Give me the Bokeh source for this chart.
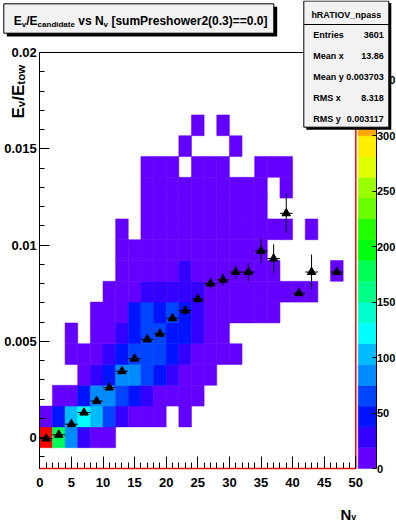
import math
import numpy as np
from bokeh.plotting import figure
from bokeh.models import (ColumnDataSource, LinearColorMapper, Range1d, LinearAxis,
                          FixedTicker, BoxAnnotation, Label)
from bokeh.transform import transform
from bokeh.embed import file_html
from bokeh.resources import INLINE

# ---------------- data ----------------
hist_name = "hRATIOV_npass"
x_lo, x_hi, n_xbins = 0.0, 50.0, 25
y_lo, y_hi, n_ybins = -0.0016, 0.02, 20
z_hi = 375.0

# bin contents: row k = k-th y bin from the bottom, 25 x bins per row
counts = [
    [0] * 25,
    [365, 178, 84, 28, 12, 4] + [0] * 19,
    [10, 47, 103, 122, 103, 65, 28, 14, 8, 3, 0, 2] + [0] * 13,
    [0, 6, 16, 47, 84, 84, 65, 47, 28, 15, 9, 5, 3] + [0] * 12,
    [0, 0, 0, 12, 28, 47, 84, 84, 65, 47, 28, 14, 8, 3] + [0] * 11,
    [0, 0, 5, 10, 16, 28, 47, 65, 65, 65, 47, 28, 14, 6, 3, 2] + [0] * 9,
    [0, 0, 3, 0, 8, 14, 28, 47, 65, 65, 47, 47, 28, 12, 4] + [0] * 10,
    [0, 0, 0, 0, 5, 12, 16, 45, 65, 47, 70, 50, 30, 15, 10, 6, 4, 3, 2] + [0] * 6,
    [0, 0, 0, 0, 0, 6, 10, 12, 28, 30, 30, 32, 28, 12, 8, 6, 5, 4, 3, 2, 2, 1, 0, 0, 0],
    [0] * 6 + [3, 5, 8, 10, 12, 22, 12, 10, 8, 6, 5, 3, 2, 0, 0, 0, 0, 1, 0],
    [0] * 6 + [2, 4, 6, 8, 10, 10, 9, 8, 6, 4, 3, 2] + [0] * 7,
    [0] * 6 + [1, 0, 3, 5, 6, 7, 7, 6, 5, 4, 3, 2, 1, 1, 0, 1, 0, 0, 0],
    [0] * 8 + [2, 3, 4, 5, 5, 4, 3, 2, 2, 1] + [0] * 7,
    [0] * 8 + [1, 2, 3, 4, 4, 3, 3, 2, 1, 1, 0, 1] + [0] * 5,
    [0] * 8 + [1, 2, 2, 0, 2, 2, 1, 0, 0, 1, 1, 1] + [0] * 5,
    [0] * 11 + [1, 0, 0, 0, 1] + [0] * 9,
    [0] * 12 + [1, 0, 1] + [0] * 10,
]

# profile (mean E_v/E_tow per N_v bin)
prof_x = [1, 3, 5, 7, 9, 11, 13, 15, 17, 19, 21, 23, 25, 27, 29, 31, 33, 35, 37, 39, 41, 43, 47]
prof_y = [-0.00005, 0.00015, 0.0007, 0.0013, 0.0019, 0.0026, 0.00345, 0.0041, 0.0051, 0.0054,
          0.0062, 0.0066, 0.0072, 0.0080, 0.0082, 0.0086, 0.0086, 0.0097, 0.0093, 0.01165,
          0.0075, 0.0086, 0.0086]
prof_ey = [0.00003, 0.00004, 0.00005, 0.00006, 0.00007, 0.00008, 0.0001, 0.0001, 0.00012, 0.00013,
           0.00016, 0.0002, 0.00023, 0.00026, 0.00032, 0.00035, 0.00048, 0.00062, 0.00074, 0.00102,
           0.00002, 0.00091, 0.00002]

x_ticks = [0, 5, 10, 15, 20, 25, 30, 35, 40, 45, 50]
x_tick_labels = ["0", "5", "10", "15", "20", "25", "30", "35", "40", "45", "50"]
x_minor = list(range(0, 51))
y_ticks = [0.0, 0.005, 0.01, 0.015, 0.02]
y_tick_labels = ["0", "0.005", "0.01", "0.015", "0.02"]
y_minor = [round(-0.001 + 0.001 * i, 4) for i in range(22)]
z_ticks = [0, 50, 100, 150, 200, 250, 300, 350]
z_tick_labels = ["0", "50", "100", "150", "200", "250", "300", "350"]

stats_names = ["Entries", "Mean x", "Mean y", "RMS x", "RMS y"]
stats_values = ["3601", "13.86", "0.003703", "8.318", "0.003117"]

# ROOT "pretty" palette, 20 contour levels
palette = ["#6300ff", "#3300ff", "#0014ff", "#0044ff", "#008bff", "#00bbff", "#00fffc",
           "#00ffcc", "#00ff85", "#00ff55", "#00ff0e", "#22ff00", "#69ff00", "#99ff00",
           "#e0ff00", "#ffee00", "#ffa700", "#ff7700", "#ff3000", "#ff0000"]

# ---------------- layout (pixels of the 396x522 canvas) ----------------
W, H = 396, 522
FX0, FX1, FY0, FY1 = 39.3, 355.3, 52.0, 468.0     # plot frame: left, right, top, bottom
XS = (FX1 - FX0) / (x_hi - x_lo)                   # px per x unit
YS = (FY1 - FY0) / (y_hi - y_lo)                   # px per y unit
ZS = (FY1 - FY0) / z_hi                            # px per z unit
PAL_L, PAL_R = 357.7, 375.5                        # palette bar
FONT = "Liberation Sans"
NB = "\u00a0"

x_view = Range1d(x_lo - FX0 / XS, x_lo + (W - FX0) / XS)
y_view = Range1d(y_lo - (H - FY1) / YS, y_hi + FY0 / YS)
z_view = Range1d(0 - (H - FY1) / ZS, z_hi + FY0 / ZS)
pal_left = x_hi + (PAL_L - FX1) / XS
pal_right = x_hi + (PAL_R - FX1) / XS

p = figure(width=W, height=H, output_backend="svg", toolbar_location=None,
           x_range=x_view, y_range=y_view,
           min_border_left=0, min_border_right=0, min_border_top=0, min_border_bottom=0)
p.title.visible = False
p.outline_line_color = None
p.grid.visible = False
p.background_fill_color = "white"
p.border_fill_color = "white"
p.extra_y_ranges = {"z": z_view}

# ---- 2D histogram cells ----
xe = np.linspace(x_lo, x_hi, n_xbins + 1)
ye = np.linspace(y_lo, y_hi, n_ybins + 1)
L, R, B, T, C = [], [], [], [], []
for k, row in enumerate(counts):
    for i, c in enumerate(row):
        if c > 0:
            L.append(xe[i]); R.append(xe[i + 1]); B.append(ye[k]); T.append(ye[k + 1]); C.append(c)
cells = ColumnDataSource(dict(l=L, r=R, b=B, t=T, c=C))
mapper = LinearColorMapper(palette=palette, low=0, high=z_hi)
p.quad(left="l", right="r", bottom="b", top="t", source=cells,
       fill_color=transform("c", mapper), line_color=transform("c", mapper), line_width=0.5)

# ---- palette bar ----
ze = np.linspace(0, z_hi, len(palette) + 1)
cb = ColumnDataSource(dict(b=ze[:-1], t=ze[1:], col=palette))
p.quad(left=pal_left, right=pal_right, bottom="b", top="t", source=cb, y_range_name="z",
       fill_color="col", line_color="col", line_width=0.5)

# ---- frame edges (top black, right red) ----
p.segment(x0=[x_lo], y0=[y_hi], x1=[x_hi], y1=[y_hi], line_color="black", line_width=1)
p.segment(x0=[x_hi], y0=[y_lo], x1=[x_hi], y1=[y_hi], line_color="red", line_width=1.5)

# ---- profile with errors ----
half_w = (x_hi - x_lo) / n_xbins / 2.0
prof = ColumnDataSource(dict(
    x=prof_x, y=prof_y,
    xl=[v - half_w for v in prof_x], xr=[v + half_w for v in prof_x],
    yl=[a - b for a, b in zip(prof_y, prof_ey)], yh=[a + b for a, b in zip(prof_y, prof_ey)]))
p.segment(x0="xl", y0="y", x1="xr", y1="y", source=prof, line_color="black", line_width=1)
p.segment(x0="x", y0="yl", x1="x", y1="yh", source=prof, line_color="black", line_width=1)
p.scatter(x="x", y="y", source=prof, marker="triangle", size=8.5, fill_color="black", line_color="black")

# ---- axes (fixed at the frame edges) ----
def style_labels(ax, size="13px"):
    ax.major_label_text_font = FONT
    ax.major_label_text_font_style = "bold"
    ax.major_label_text_font_size = size
    ax.major_label_text_color = "black"

xa = p.xaxis[0]
xa.fixed_location = y_lo
xa.ticker = FixedTicker(ticks=x_ticks, minor_ticks=x_minor)
xa.major_label_overrides = dict(zip(x_ticks, x_tick_labels))
xa.bounds = (x_lo, x_hi)
xa.axis_line_color = "red"
xa.axis_line_width = 1.5
xa.major_tick_in, xa.major_tick_out = 12, 0
xa.minor_tick_in, xa.minor_tick_out = 6, 0
xa.major_label_standoff = 9
style_labels(xa)

ya = p.yaxis[0]
ya.fixed_location = x_lo
ya.ticker = FixedTicker(ticks=y_ticks, minor_ticks=y_minor)
ya.major_label_overrides = dict(zip(y_ticks, y_tick_labels))
ya.bounds = (y_lo, y_hi)
ya.major_tick_in, ya.major_tick_out = 10, 0
ya.minor_tick_in, ya.minor_tick_out = 5, 0
ya.major_label_standoff = 3
style_labels(ya)

za = LinearAxis(y_range_name="z", fixed_location=pal_right,
                ticker=FixedTicker(ticks=z_ticks, minor_ticks=[]),
                major_label_overrides=dict(zip(z_ticks, z_tick_labels)),
                bounds=(0, z_hi), major_tick_in=4, major_tick_out=0,
                minor_tick_in=0, minor_tick_out=0, major_label_standoff=1)
style_labels(za, "11px")
p.add_layout(za, "right")

# ---------------- text helpers (canvas px, y downward) ----------------
AW = {' ': 278, NB: 278, '/': 278, '[': 333, ']': 333, '(': 333, ')': 333, '=': 584, '.': 278,
      '_': 556, 'E': 667, 'N': 722, 'P': 667, 'R': 722, 'A': 722, 'T': 611, 'I': 278, 'O': 778,
      'V': 667, 'M': 833, 'S': 667, 'a': 556, 'c': 556, 'd': 611, 'e': 556, 'h': 611, 'i': 278,
      'm': 889, 'n': 611, 'o': 611, 'p': 611, 'r': 389, 's': 556, 't': 333, 'u': 611, 'v': 556,
      'w': 778, 'x': 556, 'y': 556}


def tw(s, size):
    return sum(AW.get(ch, 556) for ch in s) * size / 1000.0


def lab(x, y, text, size, align="left", baseline="alphabetic", angle=0.0):
    p.add_layout(Label(x=x, y=y, x_units="canvas", y_units="canvas", text=text, angle=angle,
                       text_font=FONT, text_font_style="bold", text_font_size=f"{size}px",
                       text_color="black", text_align=align, text_baseline=baseline,
                       level="overlay"))


def box(l, r, t, b, fill, line=None):
    p.add_layout(BoxAnnotation(left=l, right=r, top=t, bottom=b,
                               left_units="canvas", right_units="canvas",
                               top_units="canvas", bottom_units="canvas",
                               fill_color=fill, fill_alpha=1.0,
                               line_color=line, line_width=1, line_alpha=1.0,
                               level="overlay"))


def rich_h(x, y_base, parts, big, small, sub_drop):
    for txt, is_sub in parts:
        size = small if is_sub else big
        lab(x, y_base + (sub_drop if is_sub else 0), txt.replace(" ", NB), size)
        x += tw(txt, size)


def rich_v(x_base, y, parts, big, small, sub_shift):
    for txt, is_sub in parts:
        size = small if is_sub else big
        lab(x_base + (sub_shift if is_sub else 0), y, txt, size, angle=math.pi / 2)
        y -= tw(txt, size)


# title box
box(6.3, 276.7, 6.3, 36.0, "black")
box(3.3, 273.3, 3.3, 32.7, "#f2f2f2", "black")
rich_h(13.3, 20.7, [("E", False), ("v", True), ("/E", False), ("candidate", True),
                    (" vs N", False), ("v", True), (" [sumPreshower2(0.3)==0.0]", False)],
       12, 8, 2.8)

# axis titles
rich_v(18, 118, [("E", False), ("v", True), ("/E", False), ("tow", True)], 17, 11.5, 2.5)
rich_h(340, 514, [("N", False), ("v", True)], 15, 9, 2.7)

# stats box
box(305.8, 390.8, 2.5, 129.2, "black")
box(303.3, 388.3, 0.5, 126.7, "#f2f2f2", "black")
box(303.3, 388.3, 23.5, 24.5, "black")
lab(345.8, 14, hist_name, 9, align="center", baseline="middle")
for j, (nm, vl) in enumerate(zip(stats_names, stats_values)):
    yy = 34 + 21 * j
    lab(312.7, yy, nm, 9, baseline="middle")
    lab(383.3, yy, vl, 9, align="right", baseline="middle")

open("out.html", "w").write(file_html(p, INLINE))
